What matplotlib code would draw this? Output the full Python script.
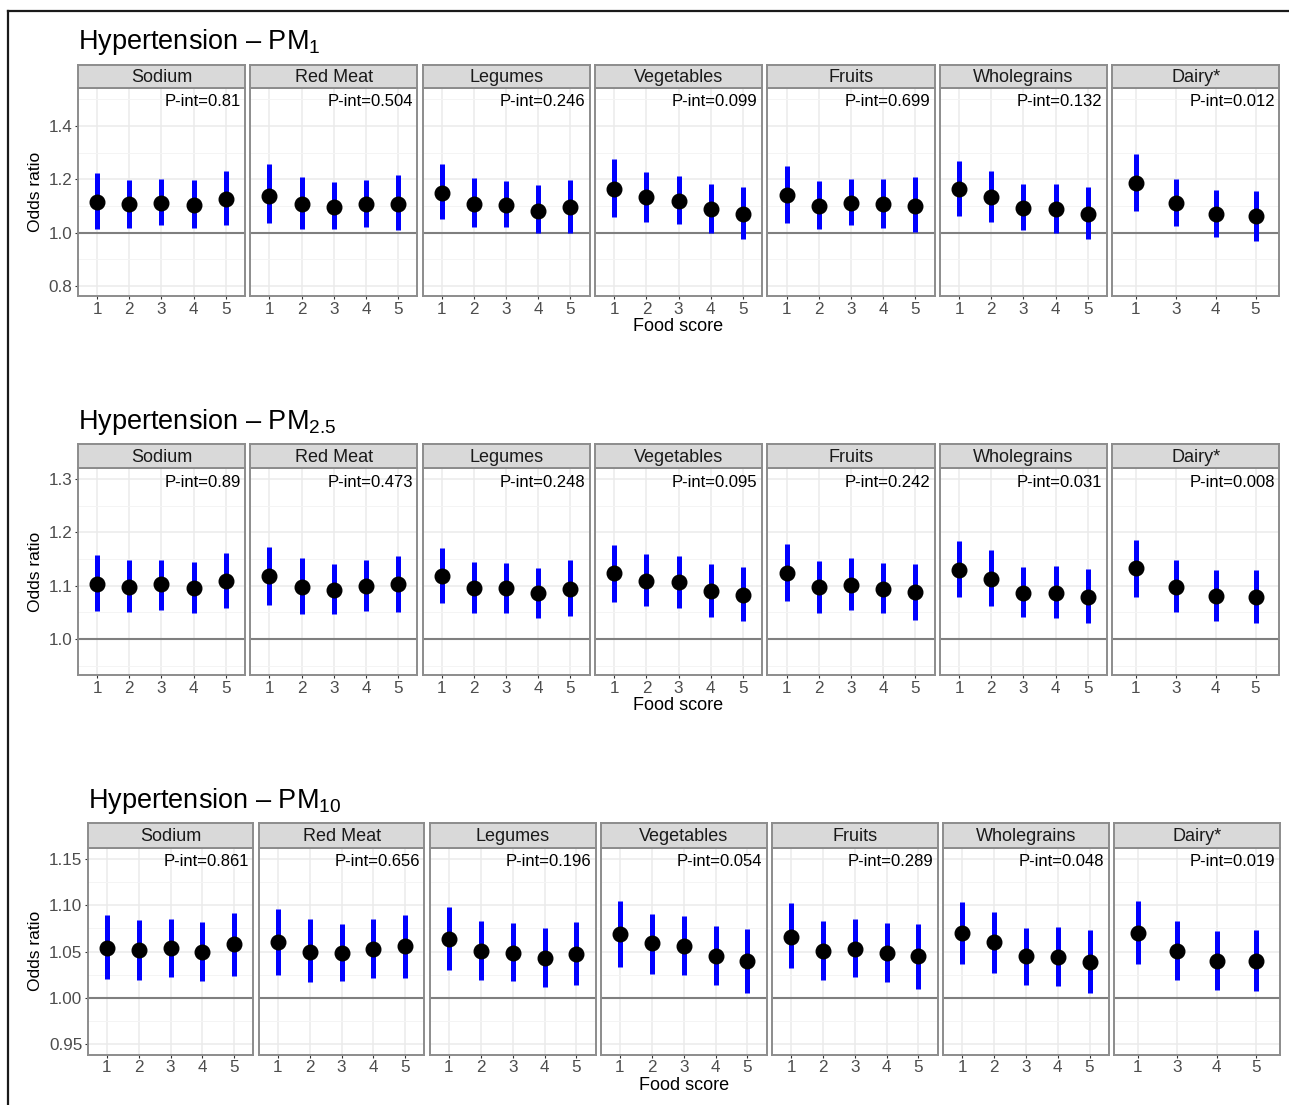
import matplotlib
matplotlib.use('Agg')
import matplotlib.pyplot as plt
from matplotlib.lines import Line2D

plt.rcParams['font.family'] = ['Liberation Sans', 'DejaVu Sans']
plt.rcParams['mathtext.fontset'] = 'custom'
plt.rcParams['mathtext.rm'] = 'Liberation Sans'
plt.rcParams['mathtext.it'] = 'Liberation Sans:italic'

# categories
foods = ['Sodium', 'Red Meat', 'Legumes', 'Vegetables', 'Fruits', 'Wholegrains', 'Dairy*']
scores = ['1', '2', '3', '4', '5']
dairy_scores = ['1', '3', '4', '5']

# PM1
pm1_or = [
    [1.116, 1.107, 1.113, 1.104, 1.126],
    [1.138, 1.108, 1.098, 1.106, 1.109],
    [1.150, 1.109, 1.103, 1.083, 1.095],
    [1.164, 1.133, 1.119, 1.089, 1.071],
    [1.140, 1.100, 1.113, 1.106, 1.101],
    [1.163, 1.135, 1.094, 1.089, 1.071],
    [1.185, 1.110, 1.069, 1.061],
]
pm1_lo = [
    [1.015, 1.016, 1.028, 1.018, 1.029],
    [1.035, 1.013, 1.014, 1.020, 1.011],
    [1.051, 1.023, 1.020, 1.000, 0.998],
    [1.060, 1.041, 1.033, 1.000, 0.976],
    [1.035, 1.013, 1.029, 1.019, 1.001],
    [1.063, 1.041, 1.010, 1.000, 0.976],
    [1.083, 1.025, 0.984, 0.970],
]
pm1_hi = [
    [1.225, 1.199, 1.203, 1.198, 1.231],
    [1.257, 1.210, 1.189, 1.199, 1.218],
    [1.256, 1.204, 1.193, 1.178, 1.199],
    [1.276, 1.228, 1.211, 1.183, 1.171],
    [1.251, 1.195, 1.203, 1.200, 1.209],
    [1.270, 1.233, 1.183, 1.183, 1.173],
    [1.294, 1.203, 1.160, 1.155],
]
pm1_pint = ['0.81', '0.504', '0.246', '0.099', '0.699', '0.132', '0.012']

# PM2.5
pm25_or = [
    [1.104, 1.098, 1.103, 1.095, 1.108],
    [1.118, 1.098, 1.092, 1.099, 1.103],
    [1.118, 1.096, 1.095, 1.086, 1.094],
    [1.123, 1.108, 1.107, 1.090, 1.083],
    [1.124, 1.097, 1.102, 1.094, 1.088],
    [1.129, 1.113, 1.087, 1.087, 1.079],
    [1.133, 1.098, 1.081, 1.078],
]
pm25_lo = [
    [1.053, 1.051, 1.054, 1.048, 1.058],
    [1.064, 1.047, 1.047, 1.052, 1.051],
    [1.067, 1.048, 1.048, 1.039, 1.043],
    [1.070, 1.061, 1.059, 1.042, 1.034],
    [1.071, 1.048, 1.055, 1.048, 1.036],
    [1.078, 1.062, 1.041, 1.039, 1.030],
    [1.078, 1.051, 1.033, 1.030],
]
pm25_hi = [
    [1.157, 1.148, 1.149, 1.144, 1.161],
    [1.173, 1.151, 1.140, 1.148, 1.156],
    [1.170, 1.144, 1.143, 1.134, 1.148],
    [1.176, 1.159, 1.156, 1.140, 1.135],
    [1.179, 1.146, 1.151, 1.143, 1.141],
    [1.184, 1.166, 1.135, 1.136, 1.131],
    [1.186, 1.148, 1.129, 1.129],
]
pm25_pint = ['0.89', '0.473', '0.248', '0.095', '0.242', '0.031', '0.008']

# PM10
pm10_or = [
    [1.054, 1.052, 1.054, 1.050, 1.058],
    [1.060, 1.050, 1.049, 1.053, 1.056],
    [1.064, 1.051, 1.049, 1.043, 1.047],
    [1.069, 1.059, 1.056, 1.045, 1.040],
    [1.066, 1.051, 1.053, 1.049, 1.045],
    [1.070, 1.060, 1.045, 1.044, 1.039],
    [1.070, 1.051, 1.040, 1.040],
]
pm10_lo = [
    [1.021, 1.020, 1.023, 1.018, 1.024],
    [1.025, 1.017, 1.018, 1.022, 1.022],
    [1.030, 1.019, 1.018, 1.012, 1.014],
    [1.034, 1.026, 1.025, 1.014, 1.006],
    [1.032, 1.019, 1.023, 1.017, 1.010],
    [1.037, 1.027, 1.014, 1.013, 1.005],
    [1.037, 1.020, 1.009, 1.008],
]
pm10_hi = [
    [1.089, 1.084, 1.085, 1.082, 1.092],
    [1.096, 1.085, 1.080, 1.085, 1.090],
    [1.098, 1.083, 1.081, 1.076, 1.082],
    [1.105, 1.091, 1.088, 1.078, 1.074],
    [1.102, 1.083, 1.085, 1.081, 1.080],
    [1.104, 1.093, 1.076, 1.077, 1.073],
    [1.105, 1.083, 1.072, 1.073],
]
pm10_pint = ['0.861', '0.656', '0.196', '0.054', '0.289', '0.048', '0.019']

W, H = 1289, 1105
fig = plt.figure(figsize=(W / 100, H / 100), dpi=100)
fig.patch.set_facecolor('white')


def px_rect(x, y_top, w, h):
    return [x / W, 1 - (y_top + h) / H, w / W, h / H]


# figure frame (left + top only)
fig.add_artist(Line2D([8 / W, 1], [1 - 10.5 / H, 1 - 10.5 / H], transform=fig.transFigure, color='#1a1a1a', lw=1.6))
fig.add_artist(Line2D([8 / W, 8 / W], [0, 1 - 10.5 / H], transform=fig.transFigure, color='#1a1a1a', lw=1.6))

rows = [
    dict(title=r'Hypertension – PM$_{1}$', tx=78, tb=49, strip=65, top=88, bot=296,
         left=77.7, pitch=172.4, width=167.3, ylim=(0.763, 1.542),
         major=[0.8, 1.0, 1.2, 1.4], minor=[0.9, 1.1, 1.3, 1.5], fmt='%.1f', xl=326,
         est=pm1_or, lo=pm1_lo, hi=pm1_hi, pint=pm1_pint),
    dict(title=r'Hypertension – PM$_{2.5}$', tx=78, tb=429, strip=444, top=468.3, bot=675.3,
         left=77.7, pitch=172.4, width=167.3, ylim=(0.932, 1.32),
         major=[1.0, 1.1, 1.2, 1.3], minor=[0.95, 1.05, 1.15, 1.25], fmt='%.1f', xl=706,
         est=pm25_or, lo=pm25_lo, hi=pm25_hi, pint=pm25_pint),
    dict(title=r'Hypertension – PM$_{10}$', tx=88, tb=808, strip=823.3, top=847.7, bot=1054.7,
         left=87.7, pitch=171.05, width=165.7, ylim=(0.939, 1.162),
         major=[0.95, 1.0, 1.05, 1.1, 1.15], minor=[0.975, 1.025, 1.075, 1.125], fmt='%.2f', xl=1085,
         est=pm10_or, lo=pm10_lo, hi=pm10_hi, pint=pm10_pint),
]

border = '#8C8C8C'

for r in rows:
    fig.text(r['tx'] / W, 1 - r['tb'] / H, r['title'], fontsize=19.5, va='baseline', ha='left', color='black')
    ph = r['bot'] - r['top']
    for i, food in enumerate(foods):
        x0 = r['left'] + i * r['pitch']
        labels = dairy_scores if food == 'Dairy*' else scores
        xs = list(range(1, len(labels) + 1))

        ax = fig.add_axes(px_rect(x0, r['top'], r['width'], ph))
        ax.set_xlim(0.4, len(labels) + 0.6)
        ax.set_ylim(*r['ylim'])
        ax.set_xticks(xs)
        ax.set_xticklabels(labels)
        ax.set_yticks(r['major'])
        ax.set_yticks(r['minor'], minor=True)
        ax.set_yticklabels([r['fmt'] % v for v in r['major']])
        ax.grid(which='major', color='#EBEBEB', lw=1.1)
        ax.grid(which='minor', axis='y', color='#F4F4F4', lw=0.7)
        ax.set_axisbelow(True)
        ax.tick_params(which='major', length=2.2, width=0.8, color='#333333',
                       labelcolor='#4D4D4D', labelsize=12.3, pad=1.8)
        ax.tick_params(which='minor', length=0)
        if i > 0:
            ax.tick_params(axis='y', labelleft=False, length=0)
        for s in ax.spines.values():
            s.set_color(border)
            s.set_linewidth(1.4)

        ax.axhline(1.0, color='#7F7F7F', lw=1.5, zorder=1)
        ax.vlines(xs, r['lo'][i], r['hi'][i], color='#0000FF', lw=3.6, zorder=2)
        ax.plot(xs, r['est'][i], 'o', color='black', ms=10.5, zorder=3)
        # P-int label, top right inside the panel
        ax.text(1 - 4.5 / r['width'], 1 - 6.5 / ph, 'P-int=' + r['pint'][i], transform=ax.transAxes,
                ha='right', va='top', fontsize=12, color='black')

        # strip
        sa = fig.add_axes(px_rect(x0, r['strip'], r['width'], r['top'] - r['strip']))
        sa.set_facecolor('#D9D9D9')
        sa.set_xticks([])
        sa.set_yticks([])
        for s in sa.spines.values():
            s.set_color(border)
            s.set_linewidth(1.4)
        sa.text(0.5, 0.45, food, transform=sa.transAxes, ha='center', va='center',
                fontsize=13, color='#1A1A1A')

        if i == 0:
            ax.set_ylabel('Odds ratio', fontsize=12.5, color='black', labelpad=4)

    right = r['left'] + 6 * r['pitch'] + r['width']
    fig.text((r['left'] + right) / 2 / W, 1 - r['xl'] / H, 'Food score', ha='center', va='center',
             fontsize=13, color='black')

fig.savefig('out.png', dpi=100)
